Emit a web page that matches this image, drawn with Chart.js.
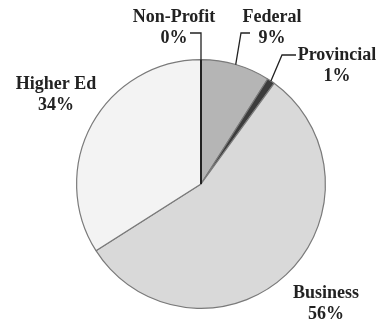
<!DOCTYPE html>
<html>
<head>
<meta charset="utf-8">
<script src="https://cdn.jsdelivr.net/npm/chart.js@4/dist/chart.umd.min.js"></script>
<style>
  html,body{margin:0;padding:0;background:#fff;}
  #wrap{width:385px;height:322px;position:relative;}
</style>
</head>
<body>
<div id="wrap"><canvas id="pie"></canvas></div>
<script>
// ---------- funding share by sector ----------
const sectors = ['Non-Profit', 'Federal', 'Provincial', 'Business', 'Higher Ed'];
const shares  = [0, 9, 1, 56, 34];
const fills   = ['#555555', '#b5b5b5', '#3c3c3c', '#d9d9d9', '#f3f3f3'];

// label placement: centre x, first baseline y, leader (label end -> elbow -> arc edge)
const labelPos = [
  {x:174, y:22, lead:[190,33], elbow:'v'},
  {x:272, y:22, lead:[250,33], elbow:[241,33]},
  {x:337, y:60, lead:[296,55], elbow:[282,55]},
  {x:326, y:298},
  {x:56,  y:89}
];

const total = shares.reduce((a,b)=>a+b,0);

const labelsPlugin = {
  id:'sectorLabels',
  afterDatasetsDraw(chart){
    const ctx = chart.ctx;
    const arcs = chart.getDatasetMeta(0).data;
    ctx.save();
    // the zero slice still gets a start angle: mark it with a dark rule
    const z = arcs[0];
    ctx.strokeStyle = '#222'; ctx.lineWidth = 2;
    ctx.beginPath();
    ctx.moveTo(z.x, z.y);
    ctx.lineTo(z.x + Math.cos(z.startAngle)*z.outerRadius, z.y + Math.sin(z.startAngle)*z.outerRadius);
    ctx.stroke();

    ctx.font = 'bold 18px "Liberation Serif", "Times New Roman", serif';
    ctx.fillStyle = '#222';
    ctx.textAlign = 'center';
    ctx.textBaseline = 'alphabetic';
    arcs.forEach((a,i)=>{
      const p = labelPos[i];
      const pct = Math.round(shares[i]/total*100) + '%';
      ctx.fillText(sectors[i], p.x, p.y);
      ctx.fillText(pct, p.x, p.y + 21);
      if(!p.lead) return;
      const mid = (a.startAngle + a.endAngle)/2;
      const ex = a.x + Math.cos(mid)*a.outerRadius, ey = a.y + Math.sin(mid)*a.outerRadius;
      const elbow = p.elbow === 'v' ? [ex, p.lead[1]] : p.elbow;
      ctx.strokeStyle = '#222'; ctx.lineWidth = 1.3;
      ctx.beginPath();
      ctx.moveTo(p.lead[0], p.lead[1]);
      ctx.lineTo(elbow[0], elbow[1]);
      ctx.lineTo(ex, ey);
      ctx.stroke();
    });
    ctx.restore();
  }
};

new Chart(document.getElementById('pie'), {
  type:'pie',
  data:{labels:sectors, datasets:[{
    data:shares, backgroundColor:fills,
    borderColor:'#7a7a7a', borderWidth:1.2
  }]},
  options:{
    responsive:true, maintainAspectRatio:false, animation:false,
    layout:{padding:{top:59, bottom:13, left:40, right:23}},
    plugins:{legend:{display:false}, tooltip:{enabled:false}}
  },
  plugins:[labelsPlugin]
});
</script>
</body>
</html>
